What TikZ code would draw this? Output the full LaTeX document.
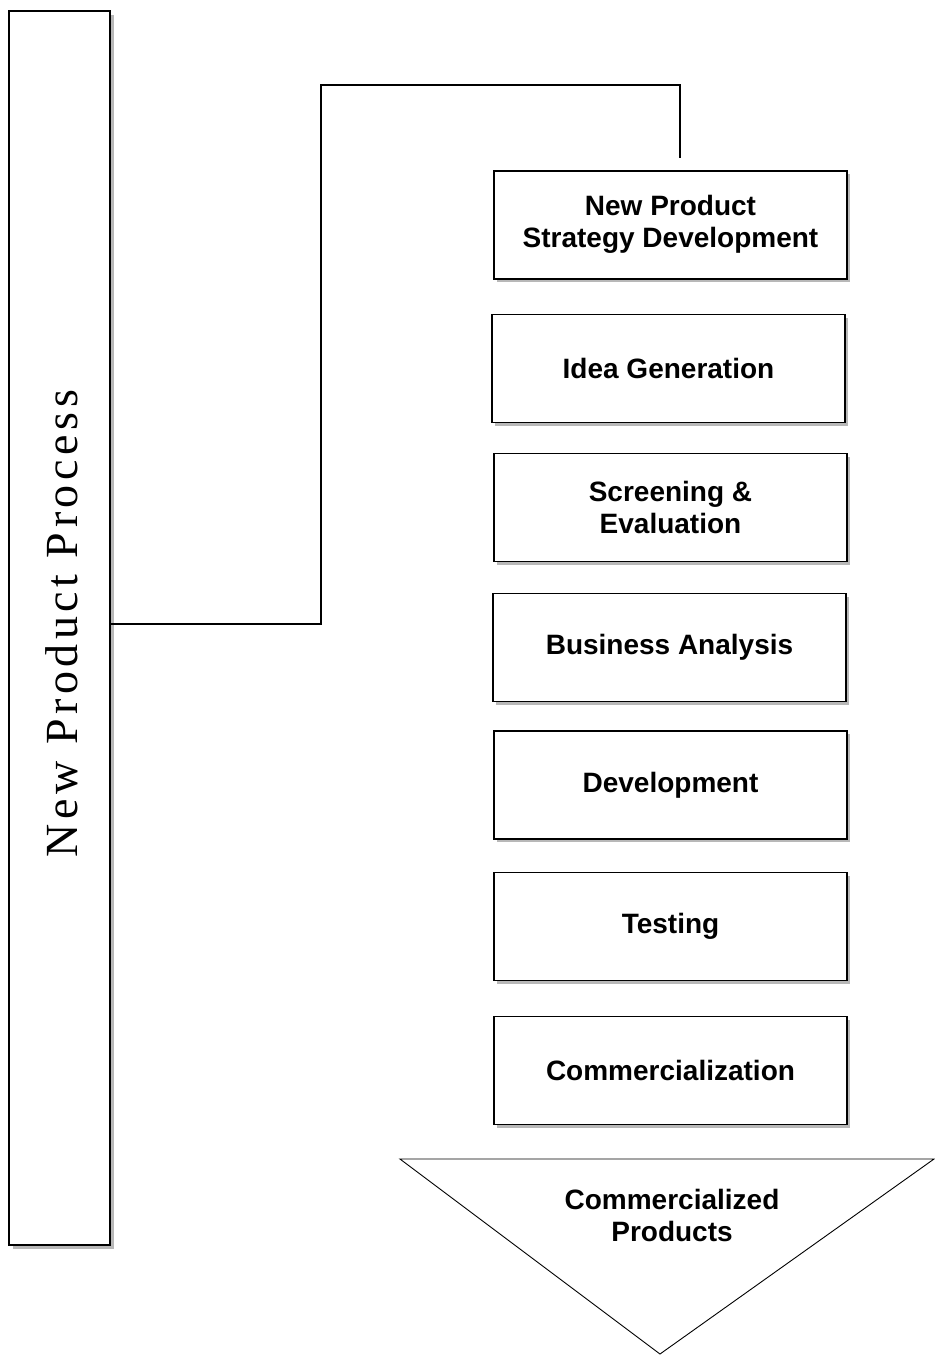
\documentclass[tikz,border=0pt]{standalone}
\usepackage{fontspec}
\setmainfont{Liberation Sans}
\newfontfamily\vserif[LetterSpace=10]{Liberation Serif}
\usetikzlibrary{shadows}
\begin{document}
\begin{tikzpicture}[x=1pt,y=-1pt,
  stepbox/.style={draw=black,line width=1.3pt,fill=white,minimum width=353pt,minimum height=108pt,
    inner sep=0pt,align=center,font=\bfseries\fontsize{28}{32}\selectfont,
    drop shadow={shadow xshift=3pt,shadow yshift=-3pt,fill=black!28,opacity=1}},
  tallbox/.style={draw=black,line width=1.6pt,fill=white,minimum width=101pt,minimum height=1234pt,inner sep=0pt,
    drop shadow={shadow xshift=4pt,shadow yshift=-4pt,fill=black!28,opacity=1}},
  conn/.style={draw=black,line width=1.5pt},
  tri/.style={draw=black,line width=0.9pt,fill=white}]
\useasboundingbox (0,0) rectangle (934,1356);
\node[tallbox] (tall) at (59.5,628) {};
\node[rotate=90,font=\vserif\fontsize{46}{50}\selectfont,inner sep=0pt] (talltext) at (62,623.5) {New Product Process};
\node[stepbox] (s1) at (670.5,225) {\raisebox{3pt}{\begin{tabular}{@{}c@{}}New Product\\Strategy Development\end{tabular}}};
\node[stepbox] (s2) at (668.5,368.5) {Idea Generation};
\node[stepbox] (s3) at (670.5,507.5) {Screening \&\\Evaluation};
\node[stepbox] (s4) at (669.5,647.5) {Business Analysis};
\node[stepbox] (s5) at (670.5,785) {Development};
\node[stepbox] (s6) at (670.5,926.5) {Testing};
\node[stepbox] (s7) at (670.5,1070.5) {Commercialization};
\coordinate (tl) at (400,1159);
\coordinate (tr) at (934,1159);
\coordinate (ta) at (660,1354);
\draw[tri] (tl) -- (tr) -- (ta) -- cycle;
\node[font=\bfseries\fontsize{28}{32}\selectfont,align=center,inner sep=0pt] (prod) at (672,1215) {Commercialized\\Products};
\coordinate (cend) at (680,158);
\draw[conn] (tall.east |- 0,624) -- (321,624) -- (321,85) -| (cend);
\end{tikzpicture}
\end{document}
